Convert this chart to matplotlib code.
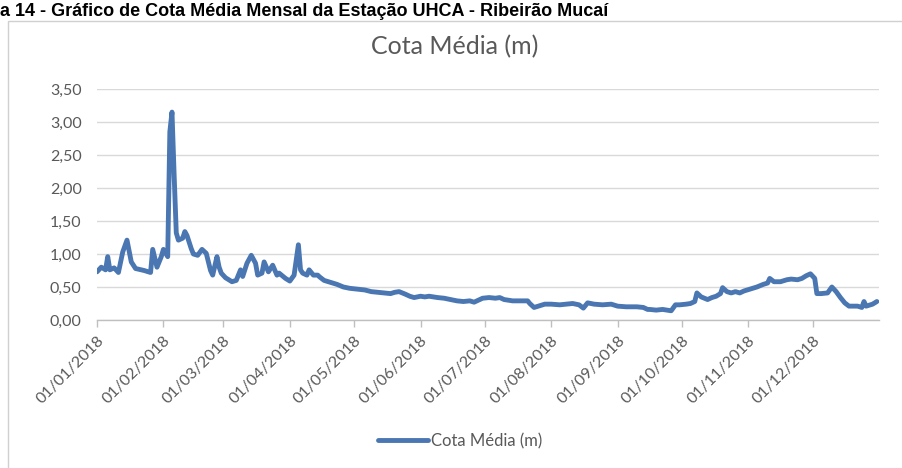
import matplotlib
matplotlib.use("Agg")
import matplotlib.pyplot as plt
import matplotlib.dates as mdates
from matplotlib.patches import Rectangle
import pandas as pd

# Daily gauge level readings (m) at the UHCA station, 2018
dates = [
    "2018-01-01", "2018-01-03", "2018-01-05", "2018-01-06", "2018-01-07", "2018-01-09",
    "2018-01-11", "2018-01-13", "2018-01-15", "2018-01-17", "2018-01-19", "2018-01-23",
    "2018-01-26", "2018-01-27", "2018-01-29", "2018-01-31", "2018-02-01", "2018-02-03",
    "2018-02-04", "2018-02-05", "2018-02-06", "2018-02-07", "2018-02-08", "2018-02-10",
    "2018-02-11", "2018-02-12", "2018-02-13", "2018-02-14", "2018-02-15", "2018-02-17",
    "2018-02-19", "2018-02-21", "2018-02-23", "2018-02-24", "2018-02-26", "2018-02-27",
    "2018-02-28", "2018-03-02", "2018-03-05", "2018-03-07", "2018-03-09", "2018-03-10",
    "2018-03-12", "2018-03-14", "2018-03-16", "2018-03-17", "2018-03-19", "2018-03-20",
    "2018-03-22", "2018-03-24", "2018-03-26", "2018-03-27", "2018-03-30", "2018-04-01",
    "2018-04-03", "2018-04-05", "2018-04-06", "2018-04-07", "2018-04-09", "2018-04-10",
    "2018-04-12", "2018-04-14", "2018-04-15", "2018-04-17", "2018-04-20", "2018-04-23",
    "2018-04-26", "2018-04-29", "2018-05-02", "2018-05-06", "2018-05-09", "2018-05-12",
    "2018-05-15", "2018-05-18", "2018-05-20", "2018-05-22", "2018-05-25", "2018-05-27",
    "2018-05-29", "2018-06-01", "2018-06-03", "2018-06-05", "2018-06-09", "2018-06-12",
    "2018-06-15", "2018-06-18", "2018-06-21", "2018-06-24", "2018-06-26", "2018-06-30",
    "2018-07-03", "2018-07-06", "2018-07-08", "2018-07-10", "2018-07-14", "2018-07-17",
    "2018-07-21", "2018-07-22", "2018-07-24", "2018-07-26", "2018-07-29", "2018-08-01",
    "2018-08-05", "2018-08-08", "2018-08-11", "2018-08-14", "2018-08-16", "2018-08-18",
    "2018-08-21", "2018-08-25", "2018-08-29", "2018-09-01", "2018-09-05", "2018-09-10",
    "2018-09-13", "2018-09-15", "2018-09-16", "2018-09-19", "2018-09-22", "2018-09-26",
    "2018-09-28", "2018-09-30", "2018-10-03", "2018-10-05", "2018-10-07", "2018-10-08",
    "2018-10-10", "2018-10-13", "2018-10-15", "2018-10-17", "2018-10-19", "2018-10-20",
    "2018-10-22", "2018-10-24", "2018-10-26", "2018-10-28", "2018-10-30", "2018-11-03",
    "2018-11-05", "2018-11-08", "2018-11-10", "2018-11-11", "2018-11-13", "2018-11-16",
    "2018-11-19", "2018-11-21", "2018-11-24", "2018-11-26", "2018-11-28", "2018-11-30",
    "2018-12-02", "2018-12-03", "2018-12-05", "2018-12-08", "2018-12-10", "2018-12-12",
    "2018-12-14", "2018-12-16", "2018-12-18", "2018-12-22", "2018-12-24", "2018-12-25",
    "2018-12-26", "2018-12-29", "2018-12-31",
]
cota_media = [
    0.73, 0.80, 0.76, 0.96, 0.76, 0.79,
    0.72, 1.03, 1.21, 0.88, 0.78, 0.75,
    0.72, 1.07, 0.80, 0.96, 1.07, 0.96,
    2.85, 3.15, 2.20, 1.32, 1.21, 1.24,
    1.34, 1.28, 1.18, 1.08, 1.00, 0.98,
    1.07, 1.01, 0.75, 0.68, 0.96, 0.80,
    0.71, 0.64, 0.58, 0.60, 0.76, 0.66,
    0.86, 0.98, 0.86, 0.68, 0.71, 0.88,
    0.73, 0.83, 0.68, 0.71, 0.63, 0.59,
    0.68, 1.14, 0.76, 0.71, 0.68, 0.76,
    0.68, 0.68, 0.65, 0.60, 0.57, 0.54,
    0.50, 0.48, 0.47, 0.455, 0.43, 0.42,
    0.41, 0.40, 0.42, 0.43, 0.39, 0.36,
    0.34, 0.36, 0.35, 0.36, 0.34, 0.33,
    0.31, 0.29, 0.28, 0.29, 0.27, 0.33,
    0.34, 0.33, 0.34, 0.31, 0.29, 0.29,
    0.29, 0.25, 0.19, 0.21, 0.24, 0.24,
    0.23, 0.24, 0.25, 0.23, 0.18, 0.26,
    0.24, 0.23, 0.24, 0.21, 0.20, 0.20,
    0.19, 0.16, 0.16, 0.15, 0.16, 0.14,
    0.23, 0.23, 0.24, 0.25, 0.28, 0.41,
    0.35, 0.31, 0.34, 0.36, 0.40, 0.49,
    0.43, 0.41, 0.43, 0.41, 0.44, 0.48,
    0.50, 0.54, 0.56, 0.63, 0.58, 0.58,
    0.61, 0.62, 0.61, 0.63, 0.67, 0.70,
    0.63, 0.40, 0.40, 0.41, 0.50, 0.43,
    0.34, 0.26, 0.21, 0.21, 0.19, 0.28,
    0.21, 0.24, 0.28,
]
month_ticks = [f"2018-{m:02d}-01" for m in range(1, 13)]
y_ticks = [0.0, 0.5, 1.0, 1.5, 2.0, 2.5, 3.0, 3.5]

caption = "a 14 - Gráfico de Cota Média Mensal da Estação UHCA - Ribeirão Mucaí"
chart_title = "Cota Média (m)"
series_name = "Cota Média (m)"

LINE = "#4A76B2"
TEXT = "#595959"
GRID = "#D9D9D9"
FONT = ["Lato", "DejaVu Sans"]

x = pd.to_datetime(dates)
ticks = pd.to_datetime(month_ticks)

W, H = 902, 468
fig = plt.figure(figsize=(W / 100, H / 100), dpi=100)
fig.patch.set_facecolor("white")

# outer chart frame
fig.patches.append(Rectangle((8 / W, -0.01), 1.0, 1 - 21 / H + 0.01,
                             transform=fig.transFigure, fill=False,
                             edgecolor="#D0D0D0", linewidth=1.0))

# caption line above the chart
fig.text(0.0, 1 - 16 / H, caption, ha="left", va="baseline",
         fontsize=13, fontweight="bold", family=["Liberation Sans", "DejaVu Sans"],
         color="#000000")

ax = fig.add_axes([97 / W, 1 - 320 / H, 782 / W, 231 / H])
ax.plot(x, cota_media, color=LINE, linewidth=3.5, solid_joinstyle="round",
        solid_capstyle="round", label=series_name)

ax.set_ylim(0, 3.5)
ax.set_xlim(pd.Timestamp("2018-01-01"), pd.Timestamp("2019-01-01"))
ax.set_yticks(y_ticks)
ax.set_yticklabels([f"{v:.2f}".replace(".", ",") for v in y_ticks],
                   fontsize=11.5, color=TEXT, family=FONT)
ax.set_xticks(ticks)
ax.set_xticklabels([d.strftime("%d/%m/%Y") for d in ticks], rotation=45,
                   ha="right", rotation_mode="anchor", fontsize=11.5,
                   color=TEXT, family=FONT)
ax.xaxis.set_minor_locator(mdates.DayLocator(bymonthday=[31], interval=1))
ax.tick_params(axis="x", which="major", length=5, width=1, color="#BFBFBF",
               direction="out", pad=5)
ax.tick_params(axis="x", which="minor", length=0)
ax.tick_params(axis="y", length=0, pad=11)
ax.grid(axis="y", color=GRID, linewidth=1.0)
ax.set_axisbelow(True)
for side in ("top", "right", "left"):
    ax.spines[side].set_visible(False)
ax.spines["bottom"].set_color("#BFBFBF")
ax.spines["bottom"].set_linewidth(1.0)

fig.text(455 / W, 1 - 47 / H, chart_title, ha="center", va="center",
         fontsize=18, color=TEXT, family=FONT)

leg = fig.legend(loc="center", bbox_to_anchor=(460 / W, 1 - 441 / H),
                 frameon=False, handlelength=3.0, handletextpad=0.15,
                 prop={"family": FONT, "size": 12})
for t in leg.get_texts():
    t.set_color(TEXT)

fig.savefig("out.png", dpi=100, facecolor="white")
